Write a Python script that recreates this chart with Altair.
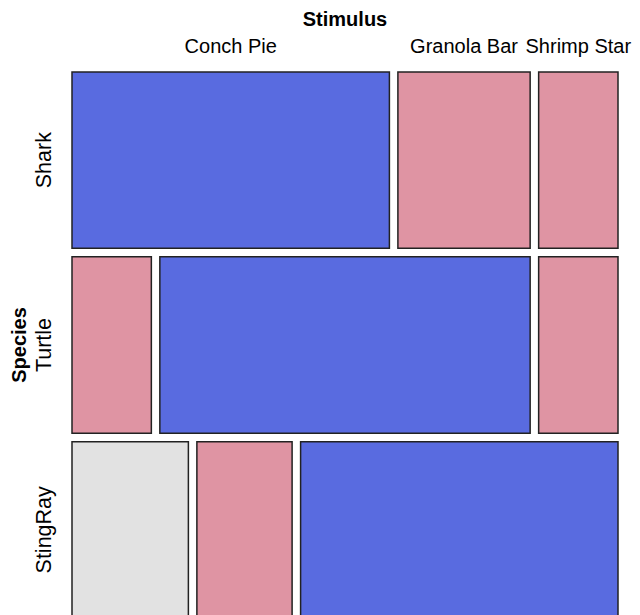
import altair as alt
import pandas as pd
import numpy as np

species = ["Shark", "Turtle", "StingRay"]
stimulus = ["Conch Pie", "Granola Bar", "Shrimp Star"]
shark_counts = [60, 25, 15]
turtle_counts = [15, 70, 15]
stingray_counts = [22, 18, 60]

counts = np.array([shark_counts, turtle_counts, stingray_counts], dtype=float)
total = counts.sum()
row_tot = counts.sum(axis=1)
col_tot = counts.sum(axis=0)
expected = np.outer(row_tot, col_tot) / total
resid = (counts - expected) / np.sqrt(expected)

GAP = 8.5 / 529.0
DOM = 1 + 2 * GAP

rows = []
y0 = 0.0
for i, sp in enumerate(species):
    h = row_tot[i] / total
    x0 = 0.0
    for j, st in enumerate(stimulus):
        w = counts[i, j] / row_tot[i]
        r = resid[i, j]
        if r > 4:
            lvl = "pos4"
        elif r > 2:
            lvl = "pos2"
        elif r < -4:
            lvl = "neg4"
        elif r < -2:
            lvl = "neg2"
        else:
            lvl = "none"
        rows.append(dict(species=sp, stimulus=st, count=counts[i, j],
                         x=x0, x2=x0 + w, y=y0, y2=y0 + h,
                         xc=x0 + w / 2, yc=y0 + h / 2, level=lvl))
        x0 += w + GAP
    y0 += h + GAP
df = pd.DataFrame(rows)

top_labels = df[df["species"] == species[0]][["stimulus", "xc"]]
left_labels = df.groupby("species", sort=False)["yc"].first().reset_index()

xs = alt.Scale(domain=[0, DOM], nice=False, zero=False)
ys = alt.Scale(domain=[0, DOM], nice=False, zero=False, reverse=True)

FONT = "Liberation Sans"

rects = alt.Chart(df).mark_rect(stroke="#222222", strokeWidth=1.5).encode(
    x=alt.X("x:Q", scale=xs, axis=None),
    x2="x2:Q",
    y=alt.Y("y:Q", scale=ys, axis=None),
    y2="y2:Q",
    color=alt.Color("level:N", legend=None,
                    scale=alt.Scale(domain=["pos4", "pos2", "none", "neg2", "neg4"],
                                    range=["#596BE0", "#9DA8E6", "#E2E2E2", "#DF94A3", "#D6546F"])),
)

top_text = alt.Chart(top_labels).mark_text(
    font=FONT, fontSize=20, align="center", baseline="middle", color="black"
).encode(
    x=alt.X("xc:Q", scale=xs, axis=None),
    y=alt.value(-25),
    text="stimulus:N",
)

left_text = alt.Chart(left_labels).mark_text(
    font=FONT, fontSize=21.5, align="center", baseline="middle", angle=270, color="black"
).encode(
    y=alt.Y("yc:Q", scale=ys, axis=None),
    x=alt.value(-27),
    text="species:N",
)

titles = pd.DataFrame({"t": ["Stimulus"], "pos": [DOM / 2]})
top_title = alt.Chart(titles).mark_text(
    font=FONT, fontSize=20, fontWeight="bold", align="center", baseline="middle", color="black"
).encode(
    x=alt.X("pos:Q", scale=xs, axis=None),
    y=alt.value(-52),
    text="t:N",
)
ltitles = pd.DataFrame({"t": ["Species"], "pos": [DOM / 2]})
left_title = alt.Chart(ltitles).mark_text(
    font=FONT, fontSize=20, fontWeight="bold", align="center", baseline="middle", angle=270, color="black"
).encode(
    y=alt.Y("pos:Q", scale=ys, axis=None),
    x=alt.value(-52),
    text="t:N",
)

chart = alt.layer(rects, top_text, left_text, top_title, left_title).properties(
    width=546, height=546,
    padding={"left": 64, "top": 64, "right": 14, "bottom": 10},
    autosize=alt.AutoSizeParams(type="none"),
).configure_view(stroke=None)

chart.save("out.html", embed_options={"renderer": "svg", "actions": False})
